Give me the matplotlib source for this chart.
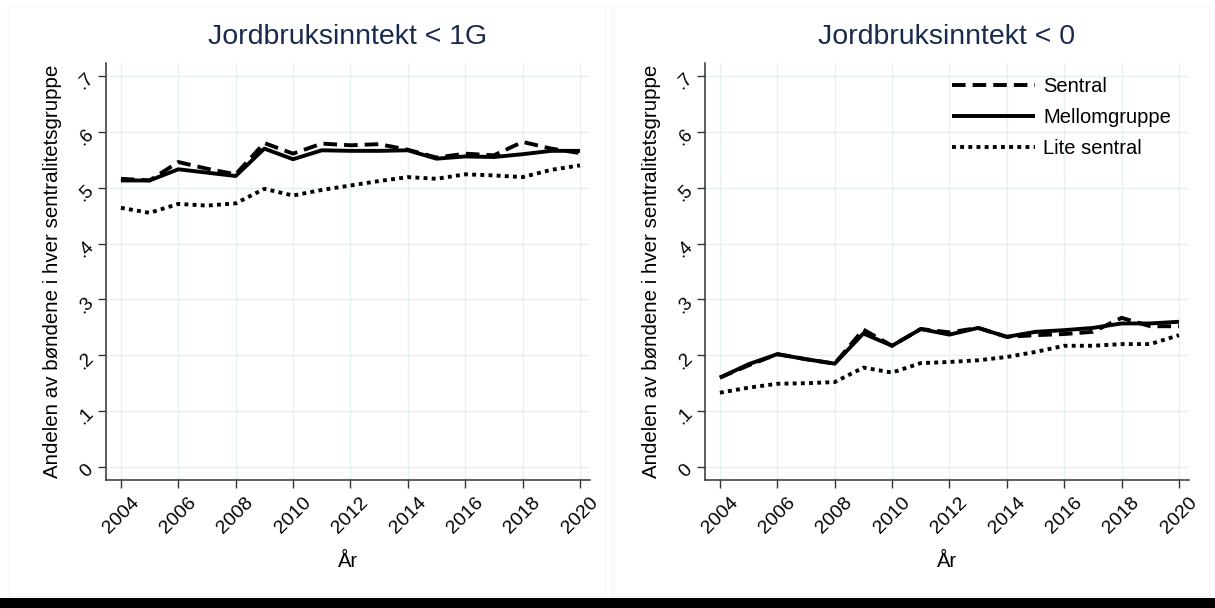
import matplotlib
matplotlib.use('Agg')
import matplotlib.pyplot as plt
from matplotlib.patches import Rectangle

plt.rcParams['font.family'] = ['Liberation Sans', 'DejaVu Sans']

# data
years = list(range(2004, 2021))

# panel 1: Jordbruksinntekt < 1G
sentral_1g = [0.516, 0.513, 0.546, 0.534, 0.524, 0.580, 0.561, 0.579, 0.576,
              0.578, 0.568, 0.554, 0.561, 0.558, 0.582, 0.570, 0.562]
mellom_1g = [0.513, 0.513, 0.533, 0.527, 0.521, 0.570, 0.551, 0.567, 0.566,
             0.566, 0.567, 0.552, 0.556, 0.555, 0.560, 0.566, 0.566]
lite_1g = [0.464, 0.455, 0.471, 0.468, 0.472, 0.498, 0.486, 0.496, 0.504,
           0.512, 0.519, 0.516, 0.524, 0.522, 0.519, 0.532, 0.540]

# panel 2: Jordbruksinntekt < 0
sentral_0 = [0.160, 0.182, 0.202, 0.193, 0.185, 0.246, 0.217, 0.247, 0.241,
             0.249, 0.233, 0.236, 0.238, 0.242, 0.267, 0.252, 0.252]
mellom_0 = [0.160, 0.184, 0.202, 0.193, 0.185, 0.239, 0.217, 0.247, 0.237,
            0.249, 0.233, 0.242, 0.245, 0.249, 0.257, 0.257, 0.260]
lite_0 = [0.133, 0.142, 0.149, 0.150, 0.152, 0.178, 0.169, 0.186, 0.188,
          0.191, 0.197, 0.206, 0.217, 0.217, 0.220, 0.220, 0.236]

titles = ['Jordbruksinntekt < 1G', 'Jordbruksinntekt < 0']
series_names = ['Sentral', 'Mellomgruppe', 'Lite sentral']
x_ticks = list(range(2004, 2021, 2))
y_ticks = [0, 0.1, 0.2, 0.3, 0.4, 0.5, 0.6, 0.7]
y_ticklabels = ['0', '.1', '.2', '.3', '.4', '.5', '.6', '.7']

panels = [(sentral_1g, mellom_1g, lite_1g), (sentral_0, mellom_0, lite_0)]

fig = plt.figure(figsize=(12.15, 6.08), dpi=100)
fig.patch.set_facecolor('white')

# faint panel frames and black strip at the bottom
for x0 in [8 / 1215, 612 / 1215]:
    fig.patches.append(Rectangle((x0, 12 / 608), 597 / 1215, 590 / 608,
                                 transform=fig.transFigure, fill=False,
                                 edgecolor='#f3f6f7', lw=1))
fig.patches.append(Rectangle((0, 0), 1, 10 / 608, transform=fig.transFigure,
                             facecolor='black', edgecolor='none'))

positions = [[106 / 1215, 1 - 480 / 608, 484 / 1215, 417 / 608],
             [705 / 1215, 1 - 480 / 608, 484 / 1215, 417 / 608]]

styles = [dict(ls=(0, (3.5, 1.8)), lw=2.8),
          dict(ls='-', lw=2.8),
          dict(ls=(0, (1, 1.1)), lw=2.8)]

for i, (pos, data) in enumerate(zip(positions, panels)):
    ax = fig.add_axes(pos)
    for vals, name, st in zip(data, series_names, styles):
        ax.plot(years, vals, color='black', label=name,
                solid_capstyle='butt', dash_capstyle='butt', **st)

    ax.set_xlim(2003.48, 2020.35)
    ax.set_ylim(-0.0233, 0.7233)
    ax.set_xticks(x_ticks)
    ax.set_xticklabels([str(y) for y in x_ticks], rotation=45, ha='center',
                       va='top', fontsize=14)
    ax.set_yticks(y_ticks)
    ax.set_yticklabels(y_ticklabels, rotation=45, ha='right', va='center',
                       rotation_mode='anchor', fontsize=13.5)
    ax.tick_params(axis='both', direction='out', length=6, width=1,
                   color='#333333')
    ax.tick_params(axis='x', pad=4)
    ax.tick_params(axis='y', pad=5)
    ax.grid(True, color='#e6eff1', lw=1)
    ax.set_axisbelow(True)
    for s in ['top', 'right']:
        ax.spines[s].set_visible(False)
    for s in ['left', 'bottom']:
        ax.spines[s].set_color('#333333')
        ax.spines[s].set_linewidth(1.1)

    ax.set_title(titles[i], fontsize=20.5, color='#1a2a4f', pad=14)
    ax.set_xlabel('År', fontsize=14.5, labelpad=11)
    ax.set_ylabel('Andelen av bøndene i hver sentralitetsgruppe',
                  fontsize=14.8, labelpad=8)

    if i == 1:
        ax.legend(loc='upper right', frameon=False, fontsize=14.5,
                  handlelength=4.1, handletextpad=0.4, labelspacing=0.6,
                  bbox_to_anchor=(1.0, 1.01))

fig.savefig('out.png', dpi=100, facecolor='white')
